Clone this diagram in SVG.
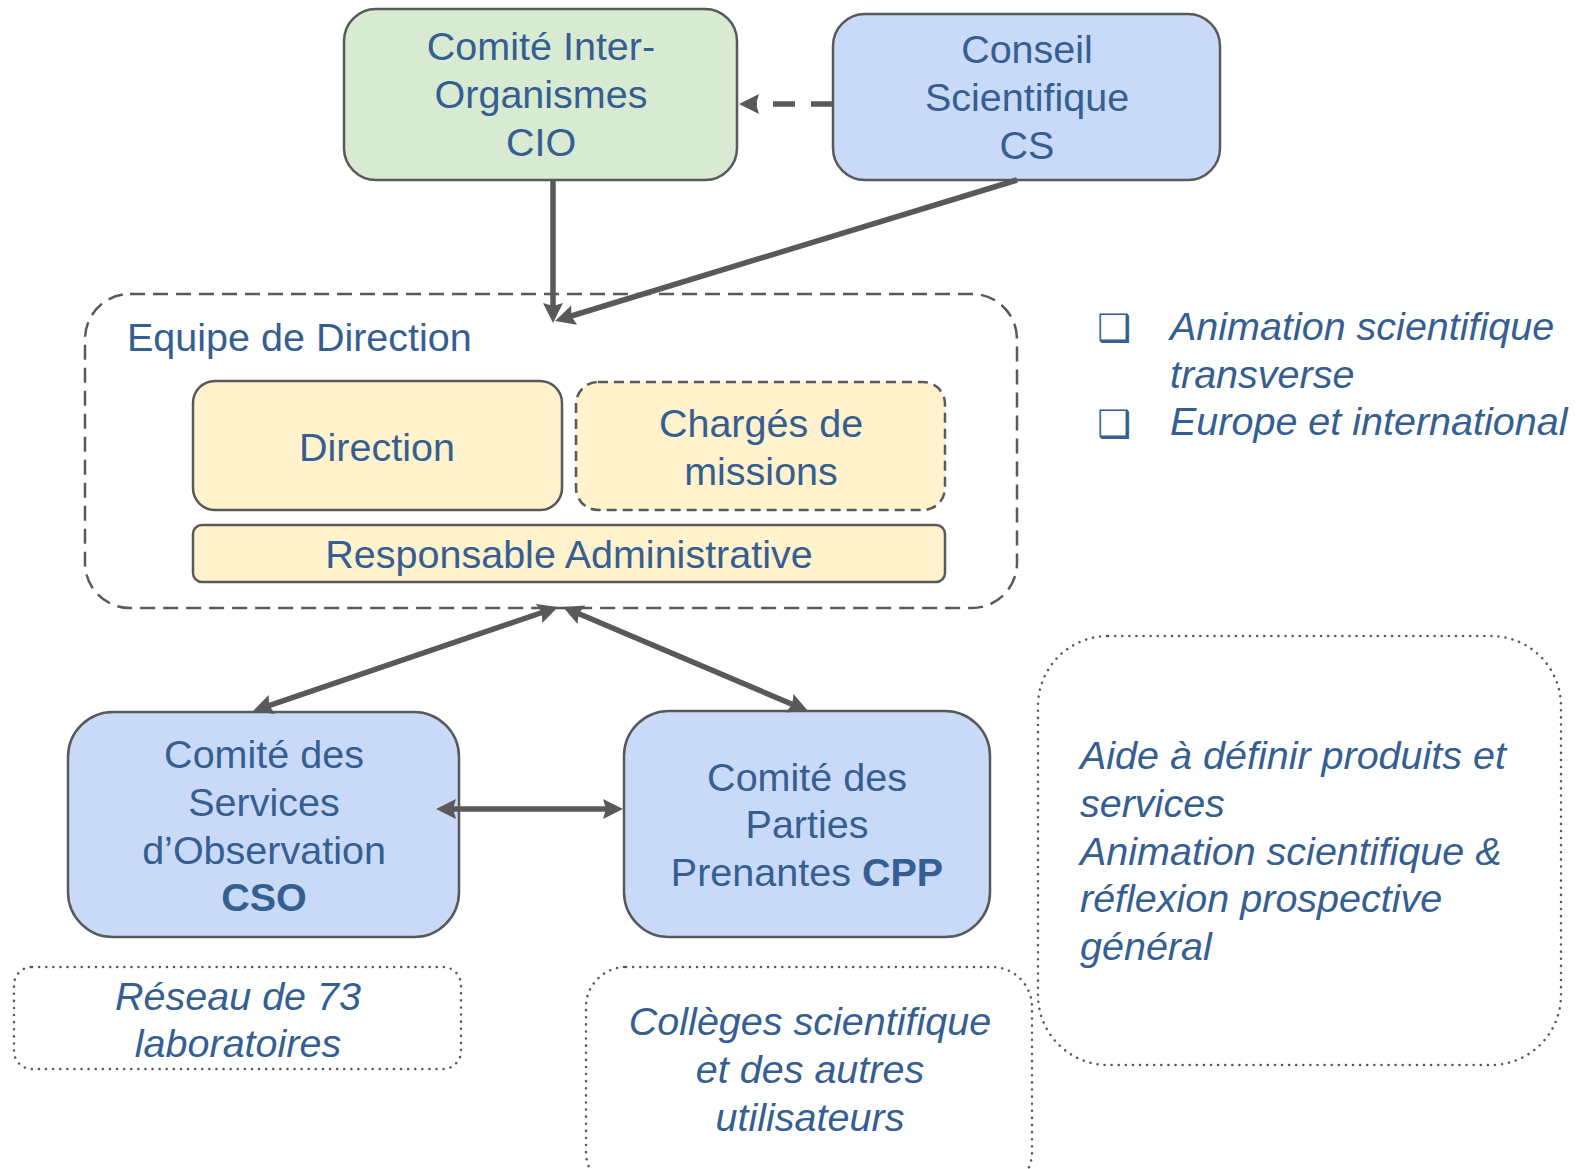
<svg xmlns="http://www.w3.org/2000/svg" width="1588" height="1169" viewBox="0 0 1588 1169">
<style>
text{font-family:"Liberation Sans",Arial,sans-serif;font-size:39.5px;fill:#355E91}
.c{text-anchor:middle}
.i{font-style:italic}
.bul{font-family:"DejaVu Sans",sans-serif;font-size:38px;font-weight:bold}
.node{stroke:#595959;stroke-width:2.5}
.green{fill:#d9ead3}
.blue{fill:#c9daf8}
.yellow{fill:#fff2cc}
.dash{stroke-dasharray:10 6}
.dot{fill:none;stroke:#595959;stroke-width:2.5;stroke-dasharray:0.1 7;stroke-linecap:round}
.conn{stroke:#595959;stroke-width:5.5;fill:none}
</style>
<defs>
<path id="head" d="M0,0 L-20,-10 L-17,0 L-20,10 z" fill="#595959"/>
</defs>

<g id="equipe">
<rect x="85" y="294" width="932" height="314" rx="45" fill="none" stroke="#595959" stroke-width="2.5" stroke-dasharray="15 8"/>
<text x="127" y="351">Equipe de Direction</text>
</g>

<g id="cio">
<rect class="node green" x="344" y="9" width="393" height="171" rx="32"/>
<text class="c" x="541" y="60">Comité Inter-</text>
<text class="c" x="541" y="108">Organismes</text>
<text class="c" x="541" y="156">CIO</text>
</g>

<g id="cs">
<rect class="node blue" x="833" y="14" width="387" height="166" rx="32"/>
<text class="c" x="1027" y="63">Conseil</text>
<text class="c" x="1027" y="111">Scientifique</text>
<text class="c" x="1027" y="159">CS</text>
</g>

<g id="direction">
<rect class="node yellow" x="193" y="381" width="369" height="129" rx="22"/>
<text class="c" x="377" y="461">Direction</text>
</g>

<g id="charges">
<rect class="node yellow dash" x="576" y="382" width="369" height="128" rx="22"/>
<text class="c" x="761" y="437">Chargés de</text>
<text class="c" x="761" y="485">missions</text>
</g>

<g id="responsable">
<rect class="node yellow" x="193" y="525" width="752" height="57" rx="9"/>
<text class="c" x="569" y="568">Responsable Administrative</text>
</g>

<g id="cso">
<rect class="node blue" x="68" y="712" width="391" height="225" rx="45"/>
<text class="c" x="264" y="768">Comité des</text>
<text class="c" x="264" y="816">Services</text>
<text class="c" x="264" y="864">d’Observation</text>
<text class="c" x="264" y="911" font-weight="bold">CSO</text>
</g>

<g id="cpp">
<rect class="node blue" x="624" y="711" width="366" height="226" rx="45"/>
<text class="c" x="807" y="791">Comité des</text>
<text class="c" x="807" y="838">Parties</text>
<text class="c" x="807" y="886">Prenantes <tspan font-weight="bold">CPP</tspan></text>
</g>

<g id="bullets">
<text class="bul" x="1097" y="341">❑</text>
<text class="bul" x="1097" y="437">❑</text>
<text class="i" x="1170" y="340">Animation scientifique</text>
<text class="i" x="1170" y="388">transverse</text>
<text class="i" x="1170" y="435">Europe et international</text>
</g>

<g id="reseau">
<rect class="dot" x="14" y="967" width="447" height="102" rx="18"/>
<text class="c i" x="238" y="1010">Réseau de 73</text>
<text class="c i" x="238" y="1057">laboratoires</text>
</g>

<g id="colleges">
<rect class="dot" x="586" y="967" width="446" height="225" rx="40"/>
<text class="c i" x="810" y="1035">Collèges scientifique</text>
<text class="c i" x="810" y="1083">et des autres</text>
<text class="c i" x="810" y="1131">utilisateurs</text>
</g>

<g id="aide">
<rect class="dot" x="1038" y="636" width="523" height="429" rx="70"/>
<text class="i" x="1080" y="769">Aide à définir produits et</text>
<text class="i" x="1080" y="817">services</text>
<text class="i" x="1080" y="865">Animation scientifique &amp;</text>
<text class="i" x="1080" y="912">réflexion prospective</text>
<text class="i" x="1080" y="960">général</text>
</g>

<g id="connectors">
<line class="conn" x1="833" y1="104" x2="754" y2="104" stroke-dasharray="22 16"/>
<use href="#head" transform="translate(739,104) rotate(180)"/>

<line class="conn" x1="553" y1="180" x2="553" y2="309"/>
<use href="#head" transform="translate(553,323) rotate(90)"/>

<line class="conn" x1="1017" y1="180" x2="568" y2="317"/>
<use href="#head" transform="translate(555,321) rotate(163.03)"/>

<line class="conn" x1="545" y1="611.5" x2="266" y2="706.6"/>
<use href="#head" transform="translate(558,607) rotate(-18.83)"/>
<use href="#head" transform="translate(253,711) rotate(161.17)"/>

<line class="conn" x1="576" y1="612.5" x2="795" y2="705.5"/>
<use href="#head" transform="translate(563,607) rotate(-157.01)"/>
<use href="#head" transform="translate(808,711) rotate(22.99)"/>

<line class="conn" x1="450" y1="809" x2="609" y2="809"/>
<use href="#head" transform="translate(436,809) rotate(180)"/>
<use href="#head" transform="translate(623,809)"/>
</g>
</svg>
